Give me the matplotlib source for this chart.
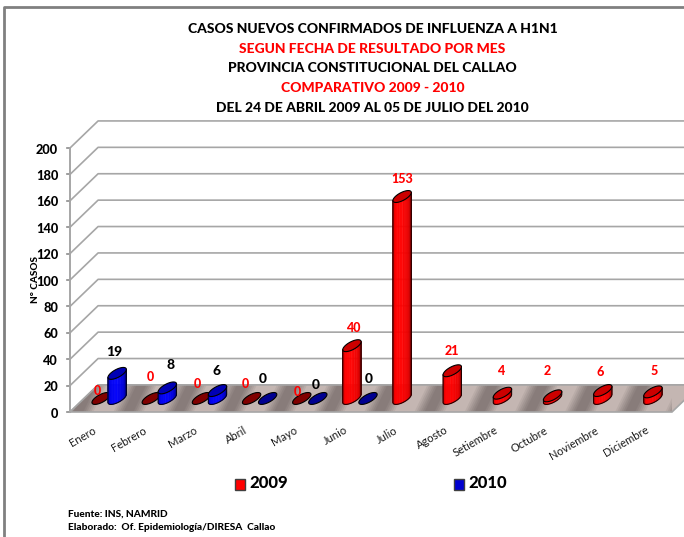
import numpy as np
import matplotlib
matplotlib.use("Agg")
import matplotlib.pyplot as plt
from matplotlib.colors import LinearSegmentedColormap
from matplotlib.patches import Polygon, Rectangle

months = ["Enero", "Febrero", "Marzo", "Abril", "Mayo", "Junio", "Julio", "Agosto",
          "Setiembre", "Octubre", "Noviembre", "Diciembre"]
cases_2009 = [0, 0, 0, 0, 0, 40, 153, 21, 4, 2, 6, 5]
cases_2010 = [19, 8, 6, 0, 0, 0]
yticks = list(range(0, 201, 20))
titles = [("CASOS NUEVOS CONFIRMADOS DE INFLUENZA A H1N1", "black"),
          ("SEGUN FECHA DE RESULTADO POR MES", "#ff0000"),
          ("PROVINCIA CONSTITUCIONAL DEL CALLAO", "black"),
          ("COMPARATIVO 2009 - 2010", "#ff0000"),
          ("DEL 24 DE ABRIL 2009 AL 05 DE JULIO DEL 2010", "black")]

plt.rcParams["font.family"] = ["Lato", "DejaVu Sans"]
HEAVY = 900
W, H = 684, 537
fig = plt.figure(figsize=(W / 100, H / 100), dpi=100)
bg = fig.add_axes([0, 0, 1, 1]); bg.set_xlim(0, W); bg.set_ylim(H, 0); bg.axis("off")
ax = fig.add_axes([70 / W, 1 - 412 / H, 602 / W, 264 / H])
ax.set_xlim(-0.5, 11.5); ax.set_ylim(0, 200); ax.axis("off")

DX, DY = 0.56, 20.5   # oblique projection of the depth axis, in data units


def proj(x, y, d):
    return x + DX * d, y + DY * d


# border
bg.plot([4, 4, W], [H, 7, 7], color="#808080", lw=2, clip_on=False)

# walls
for v in yticks:
    x0, y0 = proj(-0.5, v, 1)
    x1, y1 = proj(11.5, v, 1)
    ax.plot([-0.5, x0, x1], [v, y0, y1], color="#a6a6a6", lw=1.2, clip_on=False, zorder=1)
    ax.plot([-0.55, -0.5], [v, v], color="#8c8c8c", lw=1.2, clip_on=False, zorder=1)
ax.plot([-0.5, -0.5], [0, 200], color="#a6a6a6", lw=1.4, clip_on=False, zorder=1)

# floor
corners = [proj(-0.5, 0, 0), proj(11.5, 0, 0), proj(11.5, 0, 1), proj(-0.5, 0, 1)]
floor = Polygon(corners, closed=True, fc="#c4b6b2", ec="none", clip_on=False, zorder=2)
ax.add_patch(floor)
for n in range(-1, 14):
    s = -0.5 + n + 0.165
    for k, a in zip([0.30, 0.26, 0.22, 0.18, 0.14, 0.10], [0.12, 0.14, 0.16, 0.18, 0.2, 0.22]):
        p = Polygon([(s - k, 0), (s + k, 0), (s + k + 0.26, DY), (s - k + 0.26, DY)],
                    closed=True, fc="#6f6462", ec="none", alpha=a, zorder=2.1)
        ax.add_patch(p)
        p.set_clip_path(floor.get_path(), floor.get_transform())
ax.add_patch(Polygon(corners, closed=True, fc="none", ec="#a6a6a6", lw=1.2, clip_on=False, zorder=2.2))

# cylinders
A, D = 0.135, 0.22
B, C = D * DX, D * DY
T0 = np.arctan2(B, A)
red_body = LinearSegmentedColormap.from_list("r", ["#a00000", "#ff0000", "#ff0000", "#e80000", "#900000"])
blue_body = LinearSegmentedColormap.from_list("b", ["#000090", "#0000f0", "#0000ff", "#0000d8", "#000080"])


def ring(t, cx, cy):
    return cx + A * np.cos(t) + B * np.sin(t), cy + C * np.sin(t)


def cylinder(cat, off, value, cmap, top, zero, z):
    cx, cy = proj(cat + off, 0, 0.5)
    t_all = np.linspace(0, 2 * np.pi, 60)
    if value > 0:
        ts = np.linspace(T0 - np.pi, T0, 40)
        for i in range(len(ts) - 1):
            xa, ya = ring(ts[i], cx, cy)
            xb, yb = ring(ts[i + 1], cx, cy)
            ax.fill([xa, xb, xb, xa], [ya, yb, yb + value, ya + value],
                    fc=cmap(i / (len(ts) - 2)), ec=cmap(i / (len(ts) - 2)), lw=0.3,
                    clip_on=False, zorder=z)
        xf, yf = ring(ts, cx, cy)
        ax.plot(np.r_[xf[0], xf, xf[-1]], np.r_[yf[0] + value, yf, yf[-1] + value],
                color="#200000" if cmap is red_body else "#000020", lw=0.8,
                clip_on=False, zorder=z + 0.1)
    xt, yt = ring(t_all, cx, cy + value)
    ax.fill(xt, yt, fc=top if value > 0 else zero, ec="black", lw=0.8, clip_on=False, zorder=z + 0.2)


for i, v in enumerate(cases_2009):
    cylinder(i, -0.16, v, red_body, "#cc0000", "#800000", 3)
for i, v in enumerate(cases_2010):
    cylinder(i, 0.16, v, blue_body, "#0000b4", "#000090", 4)

# value labels: nudges in pixels from each cylinder's top
red_nudge = [(-4, 1), (-1, 15), (-4, 8), (-6, 8), (-4, 0), (1, 12), (0, 12), (0, 14),
             (-2, 16), (-5, 19), (-3, 13), (1, 15)]
blue_nudge = [(-3, 15), (3, 17), (-1, 14), (-5, 13), (-2, 7), (1, 13)]
for i, v in enumerate(cases_2009):
    cx, cy = proj(i - 0.16, v, 0.5)
    dx, dy = red_nudge[i]
    ax.annotate(str(v), (cx, cy), xytext=(dx * 0.72, dy * 0.72), textcoords="offset points",
                ha="center", va="bottom", color="#ff0000", fontsize=9, fontweight=HEAVY,
                zorder=10, annotation_clip=False)
for i, v in enumerate(cases_2010):
    cx, cy = proj(i + 0.16, v, 0.5)
    dx, dy = blue_nudge[i]
    ax.annotate(str(v), (cx, cy), xytext=(dx * 0.72, dy * 0.72), textcoords="offset points",
                ha="center", va="bottom", color="black", fontsize=10, fontweight=HEAVY,
                zorder=10, annotation_clip=False)

# axis labels
for v in yticks:
    ax.annotate(str(v), (-0.5, v), xytext=(-8.5, -1.2), textcoords="offset points", ha="right",
                va="center", fontsize=9.2, fontweight=HEAVY, annotation_clip=False)
ax.text(-1.19, 100, "N° CASOS", rotation=90, ha="center", va="center", fontsize=7.2, fontweight=HEAVY)
for i, m in enumerate(months):
    ax.annotate(m, (i, 0), xytext=(-1.5, -9), textcoords="offset points", rotation=30,
                rotation_mode="anchor", ha="right", va="top", fontsize=8, color="#1a1a1a",
                annotation_clip=False)

# titles
for (t, c), y in zip(titles, [29, 49, 68, 88, 108]):
    bg.text(372.5, y, t, ha="center", va="center", color=c, fontsize=10, fontweight=HEAVY)

# legend
for x, c, e, lab in [(234, "#ff0000", "#404040", "2009"), (453, "#0000d0", "#404040", "2010")]:
    bg.add_patch(Rectangle((x + 1, 478.5), 10, 11, fc=c, ec=e, lw=1))
    bg.text(x + 15, 483.5, lab, ha="left", va="center", fontsize=12, fontweight=HEAVY)

bg.text(68, 514, "Fuente: INS, NAMRID", ha="left", va="center", fontsize=7.3, fontweight=HEAVY)
bg.text(68, 528, "Elaborado:  Of. Epidemiología/DIRESA  Callao", ha="left", va="center", fontsize=7.3, fontweight=HEAVY)

fig.savefig("out.png", dpi=100)
